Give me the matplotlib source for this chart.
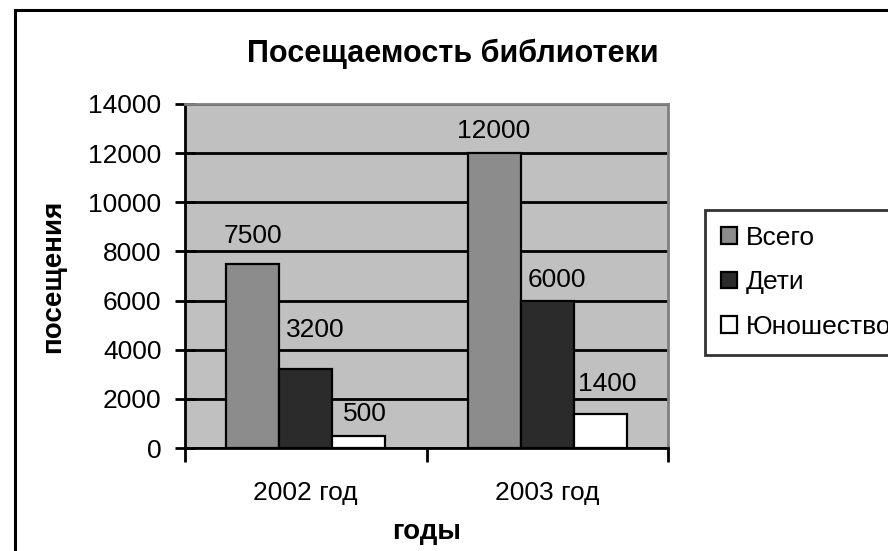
import matplotlib
matplotlib.use("Agg")
import matplotlib.pyplot as plt
import numpy as np
from matplotlib.patches import Rectangle
from matplotlib.ticker import FixedLocator, NullFormatter

plt.rcParams['font.family'] = ['Liberation Sans', 'DejaVu Sans']

categories = ["2002 год", "2003 год"]
series_names = ["Всего", "Дети", "Юношество"]
vsego = [7500, 12000]
deti = [3200, 6000]
yunoshestvo = [500, 1400]
yticks = [0, 2000, 4000, 6000, 8000, 10000, 12000, 14000]

series = [vsego, deti, yunoshestvo]
colors = ["#8c8c8c", "#2b2b2b", "#ffffff"]
# label offsets (points) per series, per category: (dx, dy)
label_offsets = [[(0, 11), (0, 7)],
                 [(7, 20), (7, 6)],
                 [(4, 7), (5, 12.5)]]

fig = plt.figure(figsize=(8.88, 5.51), dpi=100)
fig.patch.set_facecolor("white")

# outer chart border
fig.patches.append(Rectangle((15/888, -0.05), 1.0, 1 - 10/551 + 0.05,
                             transform=fig.transFigure, fill=False,
                             edgecolor="black", linewidth=2.2, zorder=0))

ax = fig.add_axes([185/888, 103/551, 483/888, 344/551])
ax.set_facecolor("#c0c0c0")

x = np.arange(len(categories))
w = 0.22
for i, (vals, c, name) in enumerate(zip(series, colors, series_names)):
    bars = ax.bar(x + (i - 1) * w, vals, width=w, color=c, edgecolor="black",
                  linewidth=1.6, label=name, zorder=3)
    for j, (b, v) in enumerate(zip(bars, vals)):
        ax.annotate(str(v), (b.get_x() + b.get_width() / 2, b.get_height()),
                    xytext=label_offsets[i][j], textcoords="offset points",
                    ha="center", va="bottom", fontsize=19, zorder=4)

ax.set_xlim(-0.5, len(categories) - 0.5)
ax.set_ylim(0, 14000)
ax.set_yticks(yticks)
ax.set_yticklabels([str(t) for t in yticks], fontsize=19)
ax.yaxis.grid(True, color="black", linewidth=2.0)
ax.set_axisbelow(True)

ax.set_xticks(x)
ax.set_xticklabels(categories, fontsize=19)
ax.tick_params(axis="x", which="major", length=0, pad=24)
ax.xaxis.set_minor_locator(FixedLocator(np.arange(-0.5, len(categories), 1.0)))
ax.xaxis.set_minor_formatter(NullFormatter())
ax.tick_params(axis="x", which="minor", length=10, width=2, direction="out")
ax.tick_params(axis="y", direction="inout", length=14, width=2, pad=10)

for s in ["top", "right"]:
    ax.spines[s].set_color("#808080")
    ax.spines[s].set_linewidth(2)
for s in ["left", "bottom"]:
    ax.spines[s].set_color("black")
    ax.spines[s].set_linewidth(2)

ax.set_ylabel("посещения", fontsize=20, fontweight="bold", labelpad=16)
ax.set_xlabel("годы", fontsize=20, fontweight="bold", labelpad=10)

fig.text(453/888, 1 - 54/551, "Посещаемость библиотеки",
         ha="center", va="center", fontsize=22, fontweight="bold")

leg = fig.legend(loc="upper left", bbox_to_anchor=(705/888, 1 - 210/551),
                 fontsize=19, frameon=True, fancybox=False, edgecolor="black",
                 handlelength=0.6, handleheight=0.6, handletextpad=0.35,
                 labelspacing=0.78, borderpad=0.6, borderaxespad=0)
leg.get_frame().set_linewidth(2)

fig.savefig("out.png", dpi=100)
